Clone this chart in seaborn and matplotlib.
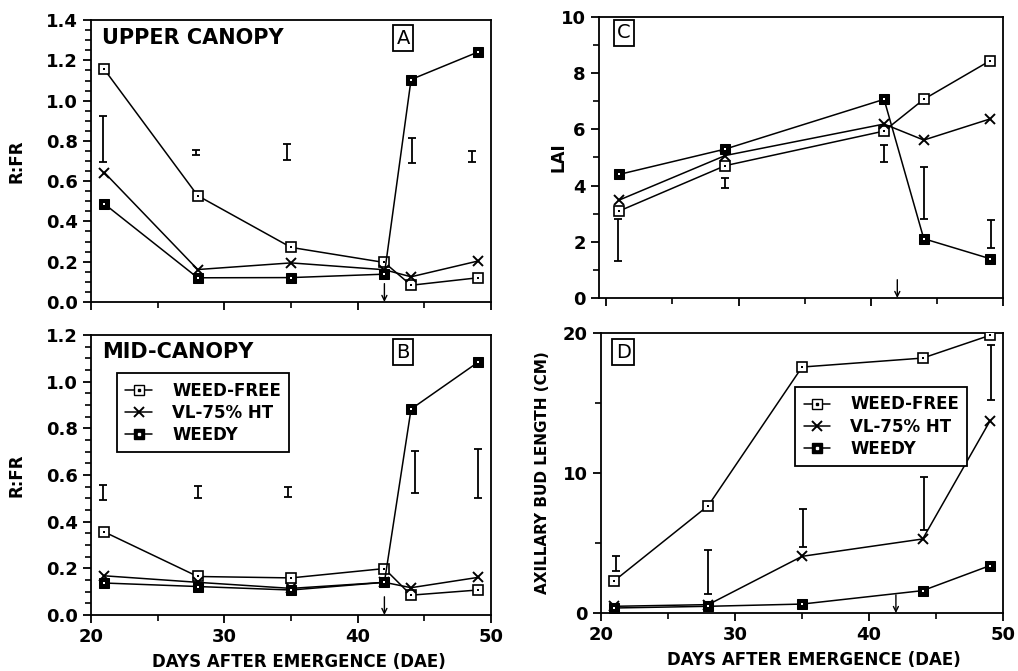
import matplotlib
matplotlib.use("Agg")
import matplotlib.pyplot as plt
from matplotlib.ticker import MultipleLocator, FormatStrFormatter
from matplotlib.lines import Line2D
from matplotlib.legend_handler import HandlerTuple
import seaborn as sns

sns.set_style("ticks")
plt.rcParams['font.family'] = ['DejaVu Sans']
plt.rcParams['text.color'] = 'black'
plt.rcParams['axes.labelcolor'] = 'black'

SERIES = ["WEED-FREE", "VL-75% HT", "WEEDY"]

# Panel A: upper canopy R:FR
dae_ab = [21, 28, 35, 42, 44, 49]
a_weedfree = [1.155, 0.528, 0.271, 0.196, 0.083, 0.12]
a_vl = [0.643, 0.161, 0.194, 0.16, 0.125, 0.203]
a_weedy = [0.487, 0.12, 0.121, 0.138, 1.105, 1.241]
a_bar_x = [20.9, 27.9, 34.7, 44.1, 48.6]
a_bar_lo = [0.693, 0.731, 0.706, 0.689, 0.694]
a_bar_hi = [0.922, 0.756, 0.784, 0.814, 0.751]

# Panel B: mid-canopy R:FR
b_weedfree = [0.356, 0.165, 0.159, 0.199, 0.085, 0.107]
b_vl = [0.168, 0.14, 0.114, 0.14, 0.117, 0.161]
b_weedy = [0.137, 0.122, 0.107, 0.14, 0.883, 1.083]
b_bar_x = [20.9, 28.0, 34.8, 44.3, 49.0]
b_bar_lo = [0.495, 0.50, 0.507, 0.521, 0.502]
b_bar_hi = [0.559, 0.552, 0.548, 0.702, 0.712]

# Panel C: LAI
dae_c = [21, 29, 41, 44, 49]
c_weedfree = [3.1, 4.71, 5.94, 7.07, 8.44]
c_vl = [3.49, 5.07, 6.19, 5.62, 6.37]
c_weedy = [4.40, 5.30, 7.07, 2.11, 1.40]
c_bar_x = [20.9, 29.0, 41.0, 44.0, 49.1]
c_bar_lo = [1.33, 3.93, 4.85, 2.82, 1.78]
c_bar_hi = [2.80, 4.26, 5.44, 4.67, 2.76]

# Panel D: axillary bud length (cm)
dae_d = [21, 28, 35, 44, 49]
d_weedfree = [2.31, 7.67, 17.57, 18.21, 19.83]
d_vl = [0.48, 0.6, 4.05, 5.29, 13.69]
d_weedy = [0.36, 0.48, 0.64, 1.6, 3.38]
d_bar_x = [21.1, 28.0, 35.1, 44.1, 49.1]
d_bar_lo = [3.02, 1.38, 4.71, 5.95, 15.24]
d_bar_hi = [4.10, 4.52, 7.43, 9.71, 19.17]

ARROW_DAE = 42

fig = plt.figure(figsize=(10.18, 6.71), dpi=100)
axA = fig.add_axes([0.0894, 0.550, 0.393, 0.420])
axB = fig.add_axes([0.0894, 0.0835, 0.393, 0.417])
axC = fig.add_axes([0.5884, 0.5559, 0.397, 0.4188])
axD = fig.add_axes([0.5904, 0.0864, 0.395, 0.4173])

LW = 1.1
MS = 7


def draw(ax, x, wf, vl, wd, bx, blo, bhi):
    sns.lineplot(x=x, y=wf, color="black", lw=LW, marker="s", ms=MS,
                 mfc="white", mec="black", mew=1.2, ax=ax, sort=False, zorder=3)
    sns.lineplot(x=x, y=vl, color="black", lw=LW, marker="x", ms=7.5,
                 mec="black", mew=1.4, ax=ax, sort=False, zorder=3)
    sns.lineplot(x=x, y=wd, color="black", lw=LW, marker="s", ms=MS,
                 mfc="black", mec="black", ax=ax, sort=False, zorder=3)
    sns.scatterplot(x=list(x), y=list(wf), color="black", s=3, marker="s",
                    linewidth=0, ax=ax, zorder=5)
    sns.scatterplot(x=list(x), y=list(wd), color="white", s=3, marker="s",
                    linewidth=0, ax=ax, zorder=5)
    mid = [(l + h) / 2 for l, h in zip(blo, bhi)]
    err = [(h - l) / 2 for l, h in zip(blo, bhi)]
    ax.errorbar(bx, mid, yerr=err, fmt="none", ecolor="black",
                elinewidth=1.3, capsize=3, capthick=1.3)
    ax.annotate("", xy=(ARROW_DAE, 0.0), xytext=(ARROW_DAE, 0.065),
                xycoords=("data", "axes fraction"),
                arrowprops=dict(arrowstyle="->", lw=1.0, color="black",
                                shrinkA=0, shrinkB=0, mutation_scale=9))


draw(axA, dae_ab, a_weedfree, a_vl, a_weedy, a_bar_x, a_bar_lo, a_bar_hi)
draw(axB, dae_ab, b_weedfree, b_vl, b_weedy, b_bar_x, b_bar_lo, b_bar_hi)
draw(axC, dae_c, c_weedfree, c_vl, c_weedy, c_bar_x, c_bar_lo, c_bar_hi)
draw(axD, dae_d, d_weedfree, d_vl, d_weedy, d_bar_x, d_bar_lo, d_bar_hi)

axA.set_xlim(20, 50); axB.set_xlim(20, 50)
axC.set_xlim(19.45, 50); axD.set_xlim(20, 50)
axA.set_ylim(0, 1.4); axB.set_ylim(0, 1.2)
axC.set_ylim(0, 10); axD.set_ylim(0, 20)

for ax in (axA, axB):
    ax.yaxis.set_major_locator(MultipleLocator(0.2))
    ax.yaxis.set_minor_locator(MultipleLocator(0.05))
    ax.yaxis.set_major_formatter(FormatStrFormatter("%.1f"))
axC.yaxis.set_major_locator(MultipleLocator(2))
axC.yaxis.set_minor_locator(MultipleLocator(1))
axD.yaxis.set_major_locator(MultipleLocator(10))
axD.yaxis.set_minor_locator(MultipleLocator(5))

for ax in (axA, axB, axC, axD):
    ax.xaxis.set_major_locator(MultipleLocator(10))
    ax.xaxis.set_minor_locator(MultipleLocator(5))
    for sp in ax.spines.values():
        sp.set_visible(True); sp.set_color("black"); sp.set_linewidth(1.3)
    ax.tick_params(which="major", direction="out", length=6, width=1.3,
                   colors="black", labelsize=13)
    ax.tick_params(which="minor", direction="out", length=4, width=1.2,
                   colors="black")
    ax.set_xlabel(""); ax.set_ylabel("")

axA.tick_params(axis="x", labelbottom=False)
axC.tick_params(axis="x", labelbottom=False)
for ax in (axA, axB, axC, axD):
    for lab in ax.get_xticklabels() + ax.get_yticklabels():
        lab.set_fontweight("bold")

# axis labels
axA.set_ylabel("R:FR", fontsize=12, fontweight="bold")
axA.yaxis.set_label_coords(-0.163, 0.5)
axB.set_ylabel("R:FR", fontsize=12, fontweight="bold")
axB.yaxis.set_label_coords(-0.163, 0.5)
axC.set_ylabel("LAI", fontsize=12, fontweight="bold")
axC.yaxis.set_label_coords(-0.079, 0.5)
axD.set_ylabel("AXILLARY BUD LENGTH (CM)", fontsize=11, fontweight="bold")
axD.yaxis.set_label_coords(-0.127, 0.5)
for ax, xc in ((axB, 0.52), (axD, 0.53)):
    ax.set_xlabel("DAYS AFTER EMERGENCE (DAE)", fontsize=12, fontweight="bold")
    ax.xaxis.set_label_coords(xc, -0.135)

# panel titles and letters
axA.text(0.027, 0.938, "UPPER CANOPY", transform=axA.transAxes, fontsize=15,
         va="center", ha="left", fontweight="semibold")
axB.text(0.027, 0.939, "MID-CANOPY", transform=axB.transAxes, fontsize=15,
         va="center", ha="left", fontweight="semibold")
box = dict(boxstyle="square,pad=0.18", facecolor="white", edgecolor="black", lw=1.3)
axA.text(0.78, 0.936, "A", transform=axA.transAxes, fontsize=14, ha="center", va="center", bbox=box)
axB.text(0.78, 0.939, "B", transform=axB.transAxes, fontsize=14, ha="center", va="center", bbox=box)
axC.text(0.062, 0.943, "C", transform=axC.transAxes, fontsize=14, ha="center", va="center", bbox=box)
axD.text(0.055, 0.932, "D", transform=axD.transAxes, fontsize=14, ha="center", va="center", bbox=box)

# legends
h_wf = (Line2D([], [], color="black", lw=LW, marker="s", ms=MS, mfc="white", mec="black"),
        Line2D([], [], color="none", marker="s", ms=1.8, mfc="black", mec="black", lw=0))
h_vl = Line2D([], [], color="black", lw=LW, marker="x", ms=7.5, mew=1.4)
h_wd = (Line2D([], [], color="black", lw=LW, marker="s", ms=MS, mfc="black", mec="black"),
        Line2D([], [], color="none", marker="s", ms=1.8, mfc="white", mec="white", lw=0))
for ax, anchor in ((axB, (0.065, 0.864)), (axD, (0.483, 0.807))):
    leg = ax.legend([h_wf, h_vl, h_wd], SERIES, loc="upper left",
                    bbox_to_anchor=anchor, frameon=True, fancybox=False,
                    edgecolor="black", framealpha=1, handlelength=1.6,
                    handletextpad=1.2, borderpad=0.5, labelspacing=0.25,
                    borderaxespad=0,
                    prop={"weight": "bold", "size": 12},
                    handler_map={tuple: HandlerTuple(ndivide=1)})
    leg.get_frame().set_linewidth(1.3)
    leg.set_zorder(10)

fig.savefig("out.png", dpi=100, facecolor="white")
